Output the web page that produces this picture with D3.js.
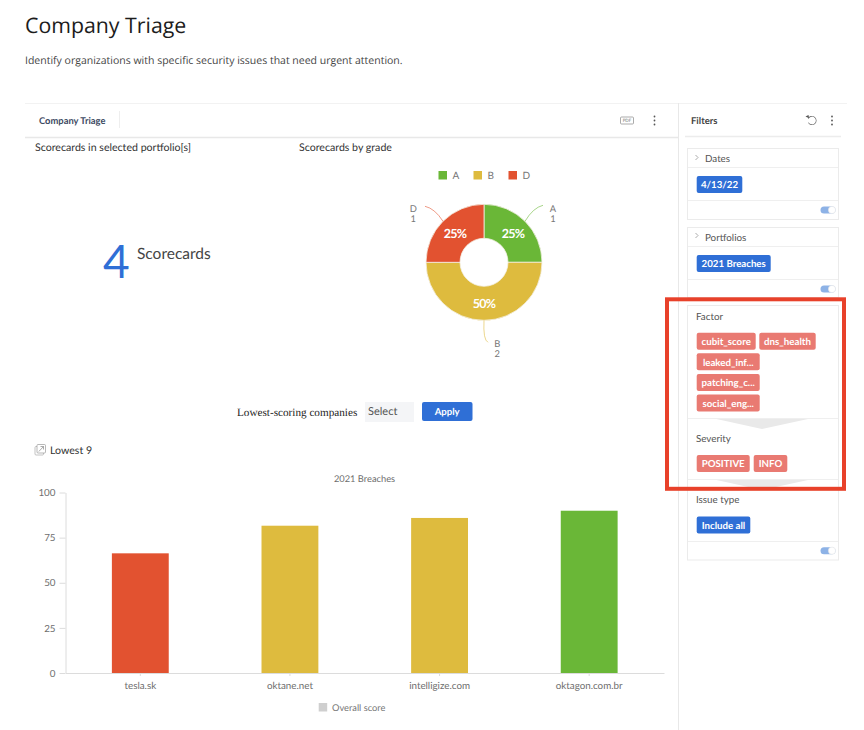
<!DOCTYPE html>
<html>
<head>
<meta charset="utf-8">
<script src="https://cdn.jsdelivr.net/npm/d3@7"></script>
<style>
html, body { margin: 0; padding: 0; background: #fff; }
svg { display: block; font-family: Lato, "Open Sans", sans-serif; text-rendering: geometricPrecision; }
.axis path, .axis line { stroke: #dcdcdc; }
.axis text { fill: #6e6e6e; font-size: 9.8px; font-family: Lato, sans-serif; }
</style>
</head>
<body>
<svg id="page" width="864" height="730"></svg>
<script>
// bar chart
const companies = ['tesla.sk', 'oktane.net', 'intelligize.com', 'oktagon.com.br'];
const scores = [66.3, 81.6, 85.9, 89.9];
const barGrades = ['D', 'B', 'B', 'A'];
const scoreTicks = [0, 25, 50, 75, 100];

// donut
const grades = ['A', 'B', 'D'];
const gradeCounts = [1, 2, 1];
const gradeColors = ['#6ab737', '#debb3e', '#e25230'];

// filter chips
const factorChips = ['cubit_score', 'dns_health', 'leaked_inf...', 'patching_c...', 'social_eng...'];
const severityChips = ['POSITIVE', 'INFO'];

const BLUE = '#2f6fd6';
const PINK = '#e97a72';
const svg = d3.select('#page');

function label(x, y, str, size, color, anchor, extra) {
    const t = svg.append('text').attr('x', x).attr('y', y)
        .attr('font-size', size).attr('fill', color)
        .attr('text-anchor', anchor || 'start').text(str);
    if (extra) extra(t);
    return t;
}
function line(x1, y1, x2, y2, color, w) {
    svg.append('line').attr('x1', x1).attr('y1', y1).attr('x2', x2).attr('y2', y2)
        .attr('stroke', color).attr('stroke-width', w || 1);
}
function dots(x, y) {
    [-4, 0, 4].forEach(d => svg.append('circle').attr('cx', x).attr('cy', y + d).attr('r', 0.9).attr('fill', '#555'));
}
function chip(x, y, w, str, color) {
    svg.append('rect').attr('x', x).attr('y', y).attr('width', w).attr('height', 17).attr('rx', 2).attr('fill', color);
    label(x + w / 2, y + 12.2, str, 9.7, '#fff', 'middle', t => t.attr('font-weight', 700));
}
function toggle(y) {
    svg.append('rect').attr('x', 820.5).attr('y', y - 3.5).attr('width', 15).attr('height', 7).attr('rx', 3.5).attr('fill', '#8db2e6');
    svg.append('circle').attr('cx', 832).attr('cy', y).attr('r', 3.6).attr('fill', '#fff').attr('stroke', '#e6e6e6').attr('stroke-width', 0.6);
}
function card(y, h) {
    svg.append('rect').attr('x', 687.5).attr('y', y).attr('width', 151).attr('height', h).attr('fill', '#fff').attr('stroke', '#ebebeb');
}
function chevron(y) {
    svg.append('path').attr('d', `M695.5 ${y - 3}l2.5 2.5l-2.5 2.5`).attr('fill', 'none').attr('stroke', '#888').attr('stroke-width', 0.7);
}

// header
label(25, 33, 'Company Triage', 21.3, '#1c1c1c', 'start', t => t.attr('font-family', '"Open Sans", sans-serif'));
label(25, 64, 'Identify organizations with specific security issues that need urgent attention.', 10.5, '#444', 'start',
    t => t.attr('font-family', '"Open Sans", sans-serif'));

// panel frame
line(25, 103.5, 847, 103.5, '#f2f2f2');
line(25, 137.5, 678, 137.5, '#e8e8e8', 1.5);
line(119.5, 111, 119.5, 128, '#eeeeee');
line(678.5, 103, 678.5, 730, '#e8e8e8');
label(39, 124, 'Company Triage', 9.4, '#3d4a63', 'start', t => t.attr('font-weight', 700));

// toolbar icons
svg.append('rect').attr('x', 620.5).attr('y', 117).attr('width', 13).attr('height', 7).attr('rx', 1).attr('fill', 'none').attr('stroke', '#888').attr('stroke-width', 0.7);
label(627, 122.3, 'PDF', 4.5, '#777', 'middle');
dots(654.5, 120.5);

// section titles
label(35, 151, 'Scorecards in selected portfolio[s]', 10.6, '#333');
label(299, 151, 'Scorecards by grade', 10.6, '#333');

// big number
label(103, 278, '4', 46, BLUE);
label(137, 259, 'Scorecards', 15.5, '#444');

// donut chart
const cx = 484, cy = 262.3;
const pie = d3.pie().sort(null).startAngle(0).endAngle(2 * Math.PI);
const arcs = pie(gradeCounts);
const arc = d3.arc().innerRadius(24).outerRadius(58);
const total = d3.sum(gradeCounts);
const donut = svg.append('g').attr('transform', `translate(${cx},${cy})`);

donut.selectAll('path.slice').data(arcs).enter().append('path')
    .attr('class', 'slice')
    .attr('d', arc)
    .attr('fill', (d, i) => gradeColors[i])
    .attr('stroke', '#f4f0e4')
    .attr('stroke-width', 0.8);

donut.selectAll('text.pct').data(arcs).enter().append('text')
    .attr('class', 'pct')
    .attr('x', d => arc.centroid(d)[0])
    .attr('y', d => arc.centroid(d)[1] + 4.5)
    .attr('text-anchor', 'middle')
    .attr('fill', '#fff')
    .attr('font-size', 12.5)
    .attr('font-weight', 700)
    .attr('letter-spacing', -0.7)
    .text(d => Math.round(d.value / total * 100) + '%');

// leader lines and outside labels, placed from each slice's mid angle
const leaderSize = [[18, -16], [4, 22], [-18, -15]];
donut.selectAll('path.leader').data(arcs).enter().append('path')
    .attr('class', 'leader')
    .attr('d', (d, i) => {
        const a = (d.startAngle + d.endAngle) / 2;
        const x0 = Math.sin(a) * 58, y0 = -Math.cos(a) * 58;
        const dx = leaderSize[i][0], dy = leaderSize[i][1];
        const ctrl = i === 1 ? [x0 - 1, y0 + dy * 0.9] : [x0 + dx * 0.45, y0 + dy * 0.85];
        return `M${x0} ${y0}Q${ctrl[0]} ${ctrl[1]} ${x0 + dx} ${y0 + dy}`;
    })
    .attr('fill', 'none')
    .attr('stroke', (d, i) => gradeColors[i])
    .attr('stroke-opacity', 0.65)
    .attr('stroke-width', 0.9);

const labelOffset = [[28, -9.6], [13.3, 27], [-29.7, -9.6]];
arcs.forEach((d, i) => {
    const a = (d.startAngle + d.endAngle) / 2;
    const x = cx + Math.sin(a) * 58 + labelOffset[i][0];
    const y = cy - Math.cos(a) * 58 + labelOffset[i][1];
    label(x, y, grades[i], 9.4, '#777', 'middle');
    label(x, y + 10, d.value, 9.4, '#777', 'middle');
});

// donut legend
const legendX = d3.scalePoint().domain(grades).range([438.5, 508.5]);
grades.forEach((g, i) => {
    svg.append('rect').attr('x', legendX(g)).attr('y', 171).attr('width', 8.5).attr('height', 8.5).attr('fill', gradeColors[i]);
    label(legendX(g) + 14, 179.3, g, 10, '#777');
});

// select row
label(237, 415.5, 'Lowest-scoring companies', 11.2, '#222', 'start', t => t.attr('font-family', '"Liberation Serif", serif'));
svg.append('rect').attr('x', 365).attr('y', 402).attr('width', 49).attr('height', 20).attr('fill', '#f4f5f7');
label(368, 414.5, 'Select', 11, '#555');
svg.append('rect').attr('x', 422).attr('y', 402).attr('width', 50.5).attr('height', 19).attr('rx', 2).attr('fill', BLUE);
label(447.2, 415.3, 'Apply', 9.6, '#fff', 'middle', t => t.attr('font-weight', 700));

// lowest 9 link
svg.append('rect').attr('x', 35).attr('y', 446.5).attr('width', 8.5).attr('height', 8.5).attr('rx', 1).attr('fill', '#fff').attr('stroke', '#aaa').attr('stroke-width', 0.7);
svg.append('rect').attr('x', 37).attr('y', 444.5).attr('width', 8.5).attr('height', 8.5).attr('rx', 1).attr('fill', '#fff').attr('stroke', '#999').attr('stroke-width', 0.7);
svg.append('path').attr('d', 'M38.8 451.5L43.5 446.5M40.5 446.5h3v3').attr('fill', 'none').attr('stroke', '#888').attr('stroke-width', 0.7);
label(50, 453.5, 'Lowest 9', 10.6, '#333');

// bar chart
label(364.5, 482, '2021 Breaches', 9.3, '#6e6e6e', 'middle');

const x = d3.scaleBand().domain(companies).range([65.5, 664]).paddingInner(0.62).paddingOuter(0.31);
const y = d3.scaleLinear().domain([0, 100]).range([673, 492.5]);
const gradeColor = d3.scaleOrdinal().domain(grades).range(gradeColors);

svg.append('g').attr('class', 'axis')
    .attr('transform', 'translate(65.5,0)')
    .call(d3.axisLeft(y).tickValues(scoreTicks).tickSize(6).tickPadding(4).tickSizeOuter(0));

svg.append('g').attr('class', 'axis')
    .attr('transform', 'translate(0,673)')
    .call(d3.axisBottom(x).tickSize(3).tickPadding(6).tickSizeOuter(0));

svg.selectAll('rect.bar').data(companies).enter().append('rect')
    .attr('class', 'bar')
    .attr('x', d => x(d))
    .attr('width', x.bandwidth())
    .attr('y', (d, i) => y(scores[i]))
    .attr('height', (d, i) => y(0) - y(scores[i]))
    .attr('fill', (d, i) => gradeColor(barGrades[i]));

svg.append('rect').attr('x', 318.7).attr('y', 703).attr('width', 8.5).attr('height', 8.5).attr('fill', '#cfcfcf');
label(332, 711.3, 'Overall score', 9.3, '#777');

// filters panel
label(691, 124, 'Filters', 9.5, '#444', 'start', t => t.attr('font-weight', 700));
svg.append('path').attr('d', d3.arc()({ innerRadius: 3.9, outerRadius: 4.5, startAngle: -1.1, endAngle: 4.2 }))
    .attr('transform', 'translate(812,120.5)').attr('fill', '#555');
svg.append('path').attr('d', 'M805.5 116.5l3 -1.5l0.6 3.2z').attr('fill', '#555');
dots(832, 120.5);
line(685, 136.5, 841, 136.5, '#ececec', 1.5);

card(148.5, 71);
line(688, 167.5, 838, 167.5, '#efefef');
line(688, 200.5, 838, 200.5, '#efefef');
chevron(158);
label(705, 162, 'Dates', 9.8, '#555');
chip(696.7, 176, 45.6, '4/13/22', BLUE);
toggle(210);

card(227.5, 70);
line(688, 246.5, 838, 246.5, '#efefef');
line(688, 279.5, 838, 279.5, '#efefef');
chevron(236);
label(705, 241, 'Portfolios', 9.8, '#555');
chip(696.7, 255, 74, '2021 Breaches', BLUE);
toggle(289);

card(305.5, 254.5);
label(696, 320, 'Factor', 9.8, '#555');
chip(696.7, 332.7, 59, factorChips[0], PINK);
chip(759.3, 332.7, 56.4, factorChips[1], PINK);
chip(696.7, 353.3, 63, factorChips[2], PINK);
chip(696.7, 374, 63, factorChips[3], PINK);
chip(696.7, 394.4, 63, factorChips[4], PINK);

line(688, 418.5, 838, 418.5, '#efefef');
svg.append('path').attr('d', 'M716.5 419L808 419L762 429z').attr('fill', '#e9e9e9');
label(696, 442, 'Severity', 9.8, '#555');
chip(696.7, 455, 53, severityChips[0], PINK);
chip(753.7, 455, 33.6, severityChips[1], PINK);

line(688, 479.5, 838, 479.5, '#efefef');
svg.append('path').attr('d', 'M716.5 480L808 480L762 490z').attr('fill', '#e9e9e9');
label(696, 503, 'Issue type', 9.8, '#555');
chip(696.7, 516.5, 53.6, 'Include all', BLUE);
line(688, 541.5, 838, 541.5, '#efefef');
toggle(550.7);

// red highlight box
svg.append('rect').attr('x', 667).attr('y', 299.3).attr('width', 177).attr('height', 189.5)
    .attr('fill', 'none').attr('stroke', '#e8412a').attr('stroke-width', 4);
</script>
</body>
</html>
